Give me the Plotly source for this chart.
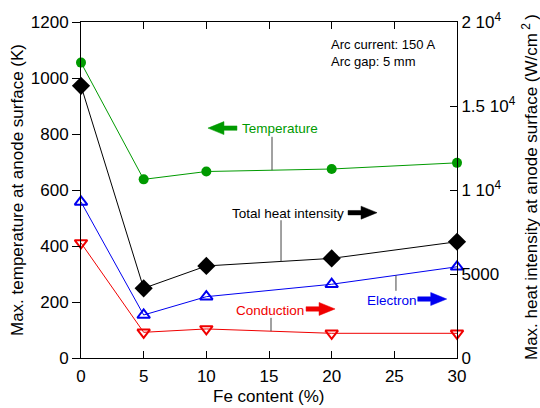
import numpy as np
import plotly.graph_objects as go

# Fe content of the anode (%)
fe_content = [0, 5, 10, 20, 30]

# Max. temperature at anode surface (K) -> left axis
temperature = [1055, 638, 666, 675, 697]

# Max. heat intensity at anode surface (W/cm^2) -> right axis
total_heat = [16200, 4150, 5480, 5930, 6920]
electron = [9290, 2560, 3650, 4390, 5430]
conduction = [6850, 1530, 1730, 1470, 1470]

x_ticks = [0, 5, 10, 15, 20, 25, 30]
left_ticks = [0, 200, 400, 600, 800, 1000, 1200]
right_ticks = [0, 5000, 10000, 15000, 20000]
right_ticktext = ["0", "5000", "1 10<sup>4</sup>", "1.5 10<sup>4</sup>", "2 10<sup>4</sup>"]

GREEN = "#009a00"
BLUE = "#0000f0"
RED = "#f00000"
FONT = "Liberation Sans, Arial, sans-serif"
TICK_SIZE = 17
TITLE_SIZE = 17

fig = go.Figure()

fig.add_trace(go.Scatter(
    x=fe_content, y=temperature, mode="lines+markers", yaxis="y",
    line=dict(color=GREEN, width=1),
    marker=dict(symbol="circle", size=10, color=GREEN),
    cliponaxis=False, name="Temperature"))

fig.add_trace(go.Scatter(
    x=fe_content, y=total_heat, mode="lines+markers", yaxis="y2",
    line=dict(color="black", width=1),
    marker=dict(symbol="diamond", size=14, color="black"),
    cliponaxis=False, name="Total heat intensity"))

fig.add_trace(go.Scatter(
    x=fe_content, y=electron, mode="lines+markers", yaxis="y2",
    line=dict(color=BLUE, width=1),
    marker=dict(symbol="triangle-up-open", size=11, color=BLUE, line=dict(width=2)),
    cliponaxis=False, name="Electron"))

fig.add_trace(go.Scatter(
    x=fe_content, y=conduction, mode="lines+markers", yaxis="y2",
    line=dict(color=RED, width=1),
    marker=dict(symbol="triangle-down-open", size=11, color=RED, line=dict(width=2)),
    cliponaxis=False, name="Conduction"))

annotations = []
shapes = []


def label(text, x, y, yref, color):
    annotations.append(dict(text=text, x=x, y=y, xref="x", yref=yref,
                            xanchor="left", yanchor="middle", showarrow=False,
                            font=dict(family=FONT, size=13.5, color=color)))


def arrow(x_head, y, yref, color, direction=1):
    # block arrow, tip anchored at (x_head, y), sized in pixels
    d = direction
    pts = [(0, 0), (-16 * d, 6.5), (-16 * d, 2.2), (-29 * d, 2.2),
           (-29 * d, -2.2), (-16 * d, -2.2), (-16 * d, -6.5)]
    path = "M " + " L ".join(f"{px},{py}" for px, py in pts) + " Z"
    shapes.append(dict(type="path", xref="x", yref=yref,
                       xsizemode="pixel", ysizemode="pixel",
                       xanchor=x_head, yanchor=y, path=path,
                       fillcolor=color, line=dict(color=color, width=0.5)))


def leader(x, y_end, series, yref):
    y_line = float(np.interp(x, fe_content, series))
    shapes.append(dict(type="line", xref="x", yref=yref, x0=x, x1=x,
                       y0=y_end, y1=y_line, line=dict(color="#444444", width=1)))


# Temperature (left axis)
arrow(10.13, 821, "y", GREEN, direction=-1)
label("Temperature", 12.7, 818, "y", GREEN)
leader(15.24, 790, temperature, "y")

# Total heat intensity (right axis)
label("Total heat intensity", 11.85, 8630, "y2", "black")
arrow(23.62, 8650, "y2", "black")
leader(15.96, 8200, total_heat, "y2")

# Conduction (right axis)
label("Conduction", 12.2, 2830, "y2", RED)
arrow(20.27, 2920, "y2", RED)
leader(15.16, 2390, conduction, "y2")

# Electron (right axis)
label("Electron", 22.62, 3430, "y2", BLUE)
arrow(29.18, 3510, "y2", BLUE)
leader(25.13, 4000, electron, "y2")

# Operating conditions
annotations.append(dict(text="Arc current: 150 A<br>Arc gap: 5 mm", x=19.8, y=1091,
                        xref="x", yref="y", xanchor="left", yanchor="middle",
                        align="left", showarrow=False,
                        font=dict(family=FONT, size=13, color="black")))

# Axis titles
annotations.append(dict(text="Max. temperature at anode surface (K)", x=0, y=0.5,
                        xref="paper", yref="paper", xshift=-64, textangle=-90,
                        xanchor="center", yanchor="middle", showarrow=False,
                        font=dict(family=FONT, size=TITLE_SIZE, color="black")))
annotations.append(dict(text="Max. heat intensity at anode surface (W/cm<sup> 2 </sup>)",
                        x=1, y=0.5, xref="paper", yref="paper", xshift=73,
                        yshift=3, textangle=-90, xanchor="center", yanchor="middle",
                        showarrow=False,
                        font=dict(family=FONT, size=TITLE_SIZE, color="black")))
annotations.append(dict(text="Fe content (%)", x=0.5, y=0, xref="paper", yref="paper",
                        yshift=-38, xanchor="center", yanchor="middle",
                        showarrow=False,
                        font=dict(family=FONT, size=TITLE_SIZE, color="black")))

fig.update_layout(
    width=540, height=408,
    margin=dict(l=81, r=83, t=22, b=50),
    paper_bgcolor="white", plot_bgcolor="white",
    showlegend=False,
    font=dict(family=FONT, size=TICK_SIZE, color="black"),
    xaxis=dict(range=[0, 30], tickvals=x_ticks, ticks="inside", ticklen=7,
               tickwidth=1, tickcolor="black", showline=True, linecolor="black",
               linewidth=1, mirror="ticks", showgrid=False, zeroline=False,
               ticklabelstandoff=3, automargin=False,
               tickfont=dict(family=FONT, size=TICK_SIZE)),
    yaxis=dict(range=[0, 1200], tickvals=left_ticks, ticks="outside", ticklen=8,
               tickwidth=1, tickcolor="black", showline=True, linecolor="black",
               linewidth=1, showgrid=False, zeroline=False, automargin=False,
               tickfont=dict(family=FONT, size=TICK_SIZE)),
    yaxis2=dict(range=[0, 20000], tickvals=right_ticks, ticktext=right_ticktext,
                overlaying="y", side="right", ticks="inside", ticklen=7,
                tickwidth=1, tickcolor="black", showline=True, linecolor="black",
                linewidth=1, showgrid=False, zeroline=False, automargin=False,
                tickfont=dict(family=FONT, size=TICK_SIZE)),
    annotations=annotations,
    shapes=shapes,
)

fig.write_html("out.html")
